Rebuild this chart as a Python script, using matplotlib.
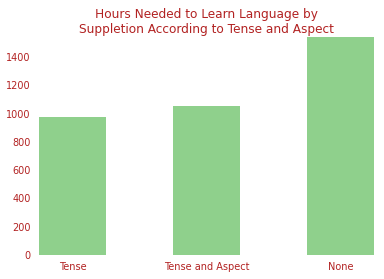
import matplotlib
matplotlib.use('Agg')
import matplotlib.pyplot as plt

categories = ['Tense', 'Tense and Aspect', 'None']
hours = [975, 1053, 1540]

red = '#b22222'
green = '#8fd08c'

fig = plt.figure(figsize=(3.84, 2.79), dpi=100)
ax = fig.add_axes([0.1016, 0.086, 0.8724, 0.781])

x = range(len(categories))
ax.bar(x, hours, width=0.5, color=green)
ax.set_xlim(-0.25, len(categories) - 0.75)
ax.set_ylim(0, max(hours))
ax.set_xticks(list(x))
ax.set_xticklabels(categories)
ax.set_yticks(range(0, 1401, 200))

for s in ax.spines.values():
    s.set_visible(False)
ax.tick_params(length=0, colors=red, labelsize=7)
ax.tick_params(axis='x', pad=5)
ax.tick_params(axis='y', pad=6)

ax.set_title('Hours Needed to Learn Language by\nSuppletion According to Tense and Aspect',
             color=red, fontsize=8.7, pad=3)

fig.savefig('out.png', dpi=100)
